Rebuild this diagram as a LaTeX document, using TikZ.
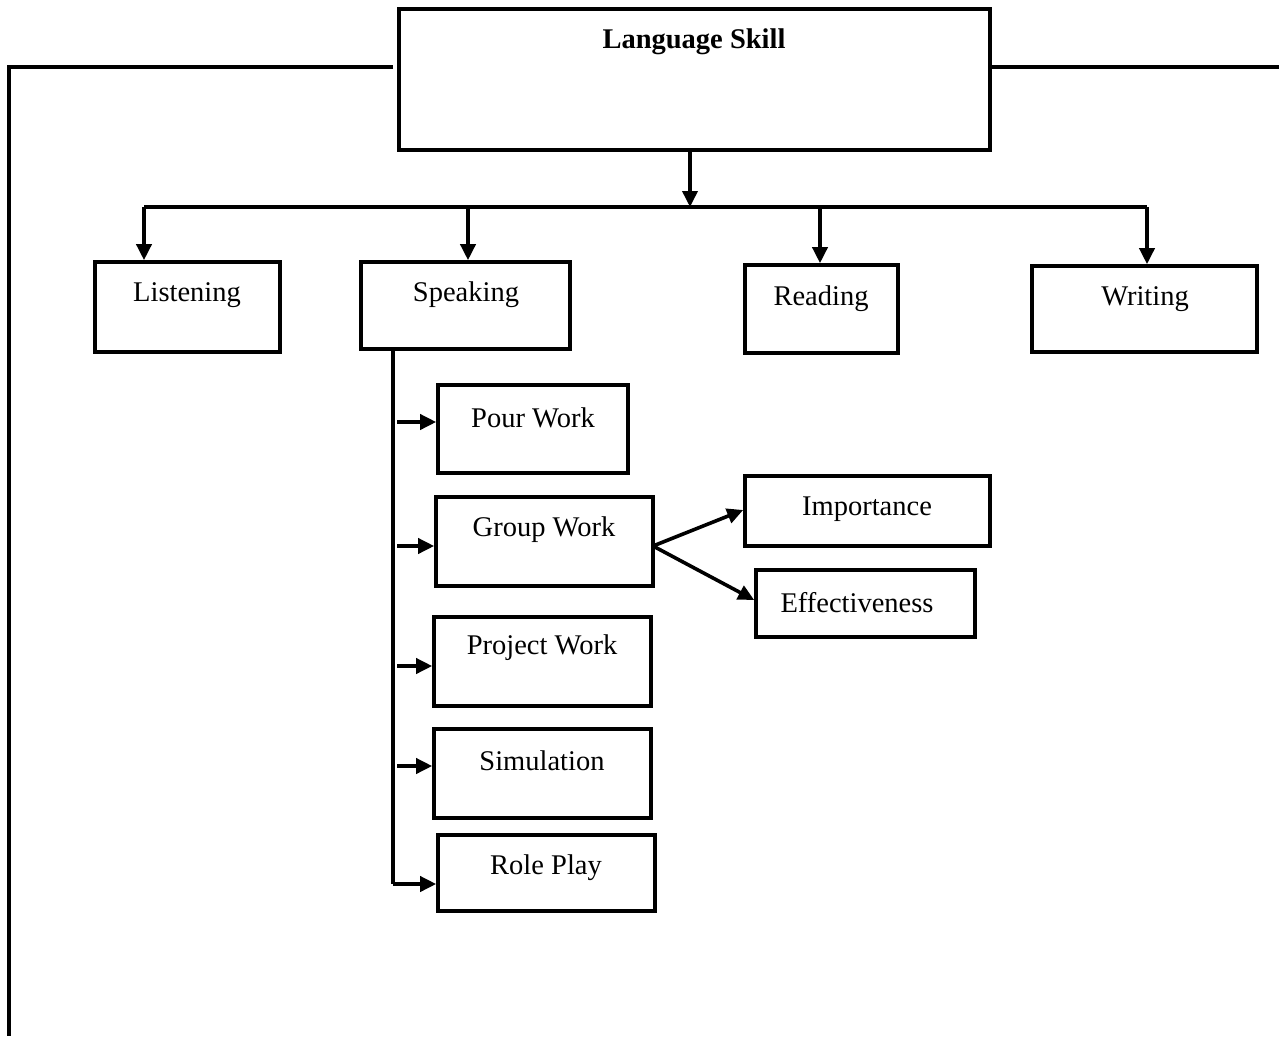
\documentclass[tikz,border=0pt]{standalone}
\usepackage{fontspec}
\setmainfont{Liberation Serif}
\usetikzlibrary{arrows.meta}
\begin{document}
\begin{tikzpicture}[x=1pt,y=-1pt,
  box/.style={draw,line width=3.6pt,inner sep=0pt,minimum width=#1},
  txt/.style={font=\fontsize{28.5}{34}\selectfont,inner sep=0pt,anchor=center},
  ln/.style={line width=3.6pt},
  arr/.style={line width=3.6pt,-{Triangle[length=16pt,width=15pt]}}]
\useasboundingbox (0,0) rectangle (1279,1036);
% boxes
\node[box=591pt,minimum height=141pt] (ls) at (694.5,79.5) {};
\node[txt,font=\fontsize{28.5}{34}\selectfont\bfseries] (lst) at (694,42) {Language Skill};
\node[box=185pt,minimum height=90pt] (lis) at (187.5,307) {};
\node[txt] (list) at (187,295) {Listening};
\node[box=209pt,minimum height=87pt] (spk) at (465.5,305.5) {};
\node[txt] (spkt) at (466,295) {Speaking};
\node[box=153pt,minimum height=88pt] (rea) at (821.5,309) {};
\node[txt] (reat) at (821,299) {Reading};
\node[box=225pt,minimum height=86pt] (wri) at (1144.5,309) {};
\node[txt] (writ) at (1145,299) {Writing};
\node[box=190pt,minimum height=88pt] (pw) at (533,429) {};
\node[txt] (pwt) at (533,418) {Pour Work};
\node[box=217pt,minimum height=89pt] (gw) at (544.5,541.5) {};
\node[txt] (gwt) at (544,530) {Group Work};
\node[box=217pt,minimum height=89pt] (pj) at (542.5,661.5) {};
\node[txt] (pjt) at (542,648) {Project Work};
\node[box=217pt,minimum height=89pt] (sim) at (542.5,773.5) {};
\node[txt] (simt) at (542,761) {Simulation};
\node[box=217pt,minimum height=76pt] (rp) at (546.5,873) {};
\node[txt] (rpt) at (546,868) {Role Play};
\node[box=245pt,minimum height=70pt] (imp) at (867.5,511) {};
\node[txt] (impt) at (867,509) {Importance};
\node[box=219pt,minimum height=67pt] (eff) at (865.5,603.5) {};
\node[txt] (efft) at (857,603) {Effectiveness};
% outer lines
\coordinate (lg) at (393,67);
\coordinate (lc) at (9,67);
\coordinate (lb) at (9,1036);
\coordinate (re) at (1279,67);
\draw[ln] (lg) -- (lc) -- (lb);
\draw[ln] (ls.east |- re) -- (re);
% bus
\coordinate (bus) at (690,207);
\coordinate (b1) at (144,207);
\coordinate (b2) at (468,207);
\coordinate (b3) at (820,207);
\coordinate (b4) at (1147,207);
\draw[arr] (ls.south -| bus) -- (bus);
\draw[ln] (b1) -- (b4);
\draw[arr] (b1) -- (b1 |- lis.north);
\draw[arr] (b2) -- (b2 |- spk.north);
\draw[arr] (b3) -- (b3 |- rea.north);
\draw[arr] (b4) -- (b4 |- wri.north);
% speaking branch
\coordinate (st) at (393,349);
\coordinate (sb) at (393,884);
\draw[ln] (spk.south -| st) -- (sb);
\draw[arr] (sb) -- (sb -| rp.west);
\draw[arr] (397,422) -- (pw.west |- 0,422);
\draw[arr] (397,546) -- (gw.west |- 0,546);
\draw[arr] (397,666) -- (pj.west |- 0,666);
\draw[arr] (397,766) -- (sim.west |- 0,766);
% group work branches
\coordinate (gwo) at (653,546);
\draw[arr] (gwo) -- (imp.west |- 0,510);
\draw[arr] (gwo) -- (eff.west |- 0,600);
\end{tikzpicture}
\end{document}
